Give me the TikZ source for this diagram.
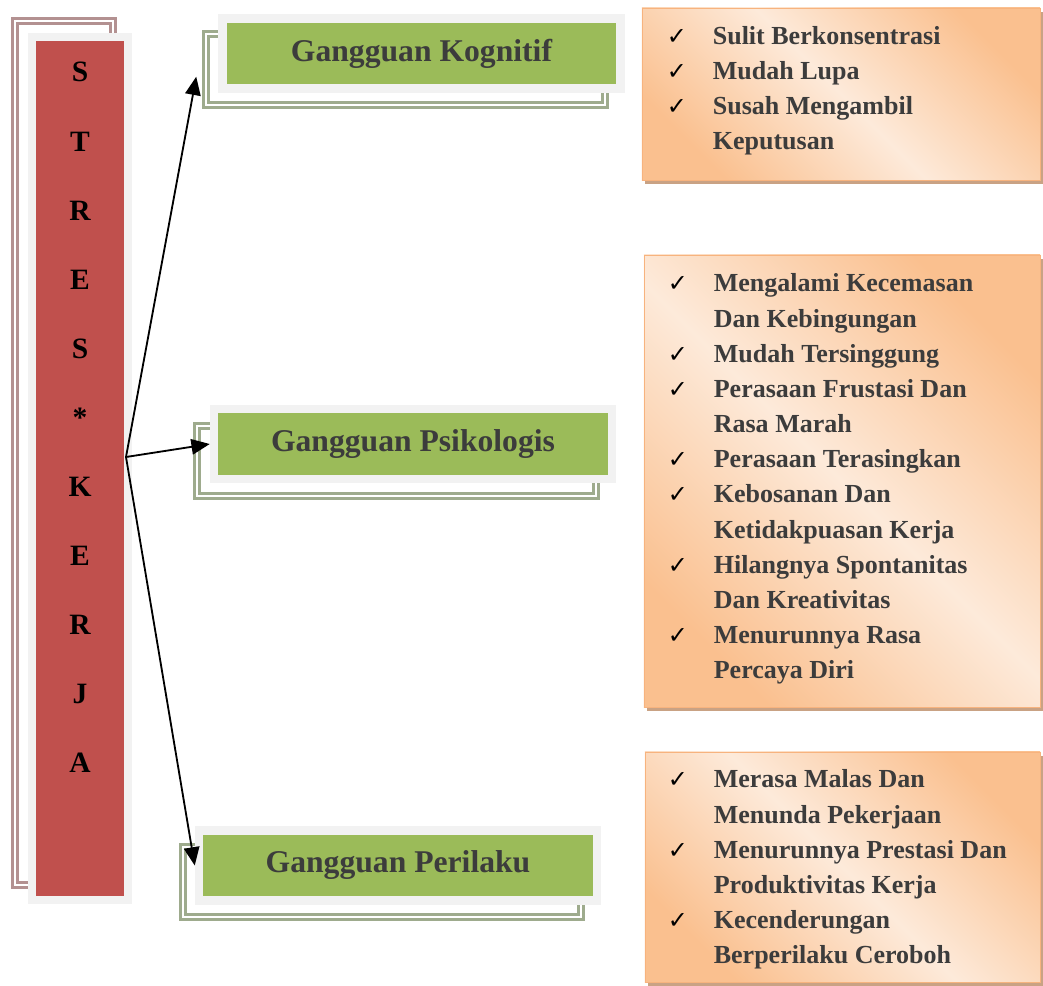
\documentclass[tikz,border=0pt]{standalone}
\usepackage{fontspec}
\setmainfont{Liberation Serif}
\newfontfamily\checkfont{DejaVu Sans}
\usetikzlibrary{arrows.meta,shadows}

\definecolor{stresred}{HTML}{C0504D}
\definecolor{rimgrey}{HTML}{F2F2F2}
\definecolor{boxgreen}{HTML}{9BBB59}
\definecolor{textgrey}{HTML}{3C3C3C}
\definecolor{redframe}{HTML}{B39191}
\definecolor{greenframe}{HTML}{9EAB8D}
\definecolor{orangedark}{HTML}{FAC08F}
\definecolor{orangelight}{HTML}{FDEADA}
\definecolor{orangerim}{HTML}{F7B37E}
\definecolor{orangeshadow}{HTML}{C9A284}

\newcommand{\cek}{\makebox[1.15cm][l]{\color{black}\checkfont\fontsize{17}{17}\selectfont ✓}}

\begin{document}
\begin{tikzpicture}[x=0.025cm, y=-0.025cm,
    rim/.style={draw=rimgrey, line width=6pt, inner sep=0pt},
    stresbox/.style={rim, fill=stresred, minimum width=2.4cm, minimum height=21.575cm},
    letter/.style={anchor=base, font=\fontsize{21}{21}\selectfont\bfseries},
    gangguan/.style={rim, fill=boxgreen, minimum width=9.95cm, minimum height=1.75cm,
      text=textgrey, font=\fontsize{22.5}{27}\selectfont\bfseries},
    backframe/.style={draw=#1, line width=2.2pt, double=white, double distance=1.3pt},
    listbox/.style={draw=orangerim, line width=0.6pt, inner sep=0pt,
      top color=orangedark, bottom color=orangedark, middle color=orangelight, shading angle=-45,
      drop shadow={shadow xshift=2.5pt, shadow yshift=-3pt, fill=orangeshadow, opacity=1}},
    listtext/.style={anchor=north west, inner sep=0pt, text=textgrey,
      font=\fontsize{18.5}{25}\selectfont\bfseries},
    arr/.style={-{Triangle[length=13pt,width=11pt]}, line width=1.3pt}]

  \useasboundingbox (0,0) rectangle (1043,985);

  \draw[backframe=redframe] (15,21) rectangle (113,885);
  \node[stresbox] (stres) at (80,468.5) {};
  \foreach \ch [count=\i] in {S,T,R,E,S,*,K,E,R,J,A}
    \node[letter] (huruf\i) at (80,{13+69*\i}) {\ch};

  \draw[backframe=greenframe] (206,34) rectangle (605,105);
  \node[gangguan] (kognitif) at (421.5,53.5) {Gangguan Kognitif};
  \draw[backframe=greenframe] (197,426) rectangle (596,496);
  \node[gangguan] (psikologis) at (413,444) {Gangguan Psikologis};
  \draw[backframe=greenframe] (183,847) rectangle (581,917);
  \node[gangguan] (perilaku) at (398,865.5) {Gangguan Perilaku};

  \node[listbox, minimum width=9.95cm, minimum height=4.3cm] (kogbox) at (841,94) {};
  \node[listtext] (koglist) at ([shift={(25,12)}]kogbox.north west) {%
    \begin{tabular}{@{}l@{}l@{}}
      \cek & Sulit Berkonsentrasi\\
      \cek & Mudah Lupa\\
      \cek & Susah Mengambil\\
           & Keputusan
    \end{tabular}};

  \node[listbox, minimum width=9.9cm, minimum height=11.3cm] (psibox) at (842,481) {};
  \node[listtext] (psilist) at ([shift={(24,12.5)}]psibox.north west) {%
    \begin{tabular}{@{}l@{}l@{}}
      \cek & Mengalami Kecemasan\\
           & Dan Kebingungan\\
      \cek & Mudah Tersinggung\\
      \cek & Perasaan Frustasi Dan\\
           & Rasa Marah\\
      \cek & Perasaan Terasingkan\\
      \cek & Kebosanan Dan\\
           & Ketidakpuasan Kerja\\
      \cek & Hilangnya Spontanitas\\
           & Dan Kreativitas\\
      \cek & Menurunnya Rasa\\
           & Percaya Diri
    \end{tabular}};

  \node[listbox, minimum width=9.875cm, minimum height=5.75cm] (perbox) at (842.5,867) {};
  \node[listtext] (perlist) at ([shift={(23,11.5)}]perbox.north west) {%
    \begin{tabular}{@{}l@{}l@{}}
      \cek & Merasa Malas Dan\\
           & Menunda Pekerjaan\\
      \cek & Menurunnya Prestasi Dan\\
           & Produktivitas Kerja\\
      \cek & Kecenderungan\\
           & Berperilaku Ceroboh
    \end{tabular}};

  \coordinate (src) at (126,457);
  \draw[arr] (src) -- ([shift={(-22,-16)}]kognitif.south west);
  \draw[arr] (src) -- (psikologis.west);
  \draw[arr] (src) -- (perilaku.west);
\end{tikzpicture}
\end{document}
